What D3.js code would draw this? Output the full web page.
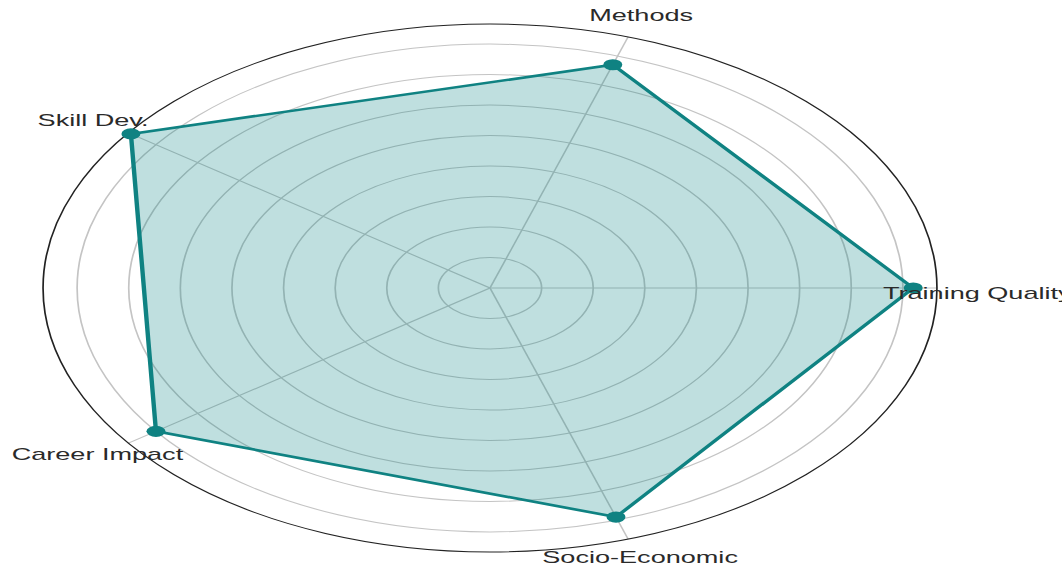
<!DOCTYPE html>
<html>
<head>
<meta charset="utf-8">
<script src="https://cdn.jsdelivr.net/npm/d3@7"></script>
<style>
  html, body { margin: 0; padding: 0; background: #fff; overflow: hidden; }
  svg { display: block; }
  text { font-family: "Liberation Sans", Arial, sans-serif; }
</style>
</head>
<body>
<svg id="chart" width="1062" height="567"></svg>
<script>
// ---- data ----
const categories = ["Training Quality", "Methods", "Skill Dev.", "Career Impact", "Socio-Economic"];
const values = [8.2, 7.7, 8.6, 8.0, 7.9];
const gridTicks = [1, 2, 3, 4, 5, 6, 7, 8];
const radialMax = 8.66;

// ---- layout ----
const W = 1062, H = 567;
const cx = 490, cy = 288;
const R = 264;          // radius in local (unstretched) units
const sx = 1.693;       // horizontal stretch of the picture

const svg = d3.select("#chart");
const g = svg.append("g").attr("transform", `translate(${cx},${cy}) scale(${sx},1)`);

const r = d3.scaleLinear().domain([0, radialMax]).range([0, R]);
const angle = d3.scaleLinear().domain([0, categories.length]).range([0, 2 * Math.PI]);
// counterclockwise from the right
const px = (i, v) => r(v) * Math.cos(angle(i));
const py = (i, v) => -r(v) * Math.sin(angle(i));

// grid circles
g.selectAll("circle.grid").data(gridTicks).enter().append("circle")
  .attr("class", "grid")
  .attr("r", d => r(d))
  .attr("fill", "none")
  .attr("stroke", "#c4c4c4")
  .attr("stroke-width", 1);

// spokes
g.selectAll("line.spoke").data(categories).enter().append("line")
  .attr("class", "spoke")
  .attr("x1", 0).attr("y1", 0)
  .attr("x2", (d, i) => px(i, radialMax))
  .attr("y2", (d, i) => py(i, radialMax))
  .attr("stroke", "#c4c4c4")
  .attr("stroke-width", 1);

// data polygon
const pts = values.map((v, i) => [px(i, v), py(i, v)]);
g.append("path")
  .attr("d", d3.line().curve(d3.curveLinearClosed)(pts))
  .attr("fill", "rgba(0,128,128,0.25)")
  .attr("stroke", "#0f8282")
  .attr("stroke-width", 2.6)
  .attr("stroke-linejoin", "miter");

// outer boundary
g.append("circle")
  .attr("r", r(radialMax))
  .attr("fill", "none")
  .attr("stroke", "#222")
  .attr("stroke-width", 1);

// markers
g.selectAll("circle.pt").data(values).enter().append("circle")
  .attr("class", "pt")
  .attr("cx", (d, i) => px(i, d))
  .attr("cy", (d, i) => py(i, d))
  .attr("r", 5.6)
  .attr("fill", "#0f8282");

// angular labels (offsets in screen px relative to outer-ring point)
const labelOffsets = [
  { dx: -54, dy: 11, anchor: "start" },
  { dx: 13, dy: -16, anchor: "middle" },
  { dx: 20, dy: -7, anchor: "end" },
  { dx: -31, dy: 17, anchor: "middle" },
  { dx: 12, dy: 24, anchor: "middle" }
];
g.selectAll("text.lab").data(categories).enter().append("text")
  .attr("class", "lab")
  .attr("transform", (d, i) => `translate(${px(i, radialMax) + labelOffsets[i].dx / sx},${py(i, radialMax) + labelOffsets[i].dy})`)
  .attr("text-anchor", (d, i) => labelOffsets[i].anchor)
  .attr("font-size", 16)
  .attr("fill", "#2a2a2a")
  .text(d => d);
</script>
</body>
</html>
